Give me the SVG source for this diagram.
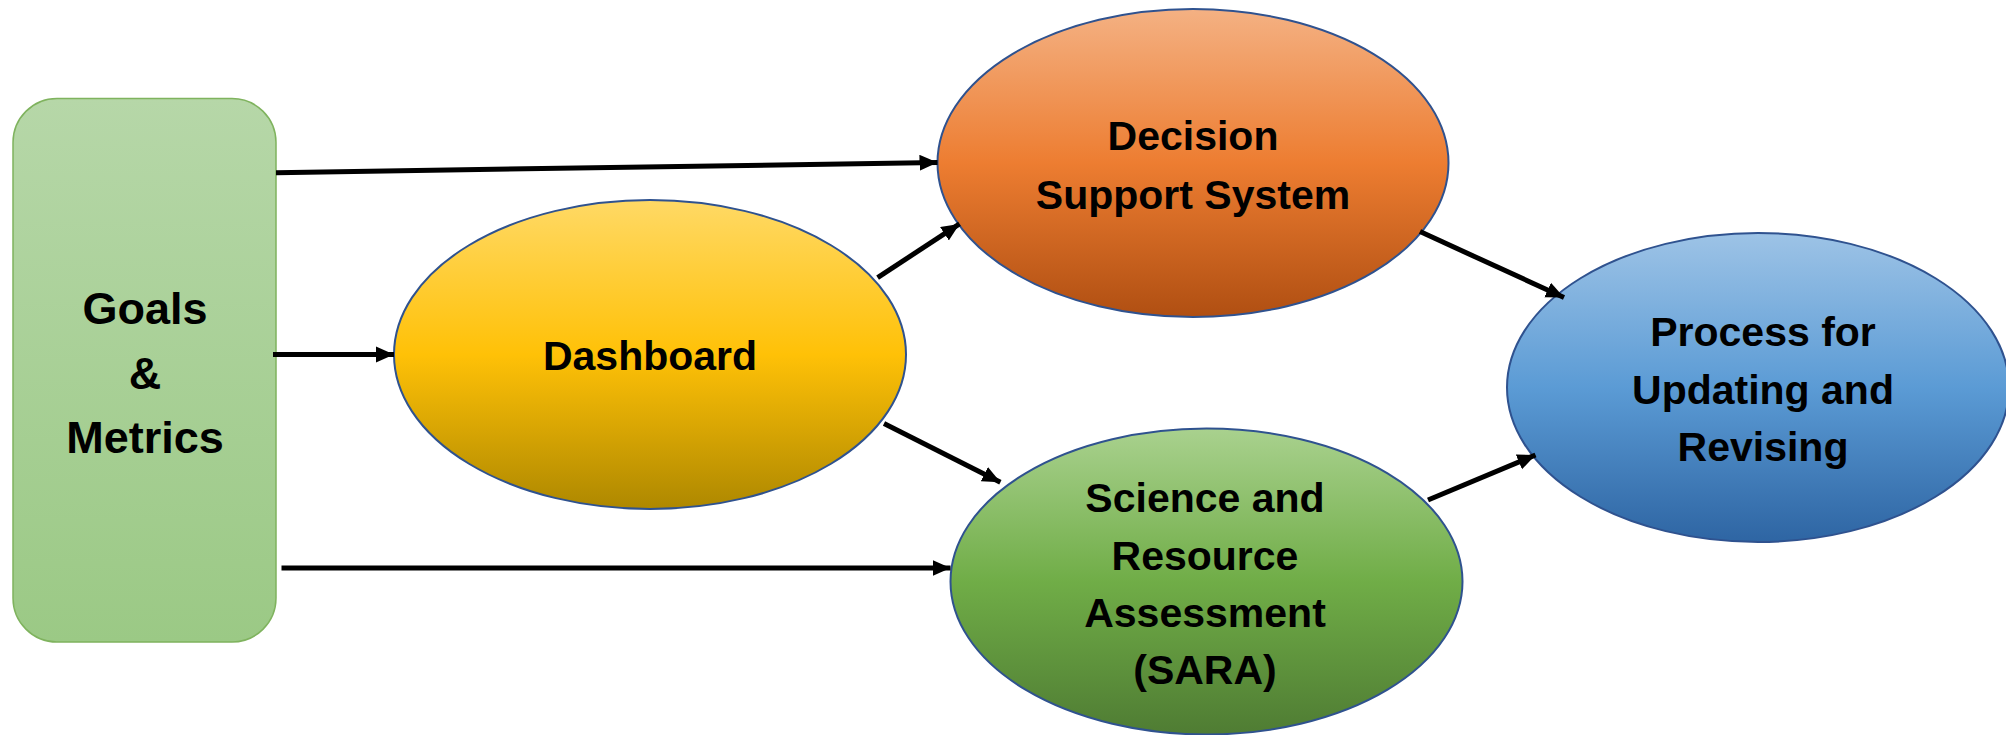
<svg xmlns="http://www.w3.org/2000/svg" width="2006" height="735" viewBox="0 0 2006 735">
  <style>
    .lbl { font-family: "Liberation Sans", Arial, sans-serif; font-weight: bold; fill: #000; text-anchor: middle; }
    .big { font-size: 45px; }
    .med { font-size: 41px; }
    .ell { stroke: #2f528f; stroke-width: 2; }
    .conn { stroke: #000; stroke-width: 5; fill: none; marker-end: url(#arrow); }
  </style>
  <defs>
    <linearGradient id="goalsGrad" x1="0" y1="0" x2="0" y2="1">
      <stop offset="0" stop-color="#b6d7a8"/>
      <stop offset="1" stop-color="#9bc985"/>
    </linearGradient>
    <linearGradient id="dashGrad" x1="0" y1="0" x2="0" y2="1">
      <stop offset="0" stop-color="#ffd965"/>
      <stop offset="0.5" stop-color="#ffc107"/>
      <stop offset="1" stop-color="#ae8800"/>
    </linearGradient>
    <linearGradient id="dssGrad" x1="0" y1="0" x2="0" y2="1">
      <stop offset="0" stop-color="#f4b183"/>
      <stop offset="0.5" stop-color="#ed7d31"/>
      <stop offset="1" stop-color="#b04f12"/>
    </linearGradient>
    <linearGradient id="saraGrad" x1="0" y1="0" x2="0" y2="1">
      <stop offset="0" stop-color="#a9d18e"/>
      <stop offset="0.5" stop-color="#70ad47"/>
      <stop offset="1" stop-color="#4f7c33"/>
    </linearGradient>
    <linearGradient id="procGrad" x1="0" y1="0" x2="0" y2="1">
      <stop offset="0" stop-color="#9dc3e6"/>
      <stop offset="0.5" stop-color="#5b9bd5"/>
      <stop offset="1" stop-color="#2e65a3"/>
    </linearGradient>
    <marker id="arrow" markerUnits="userSpaceOnUse" markerWidth="19" markerHeight="17" refX="18" refY="8" orient="auto">
      <path d="M0,0 L18,8 L0,16 Z" fill="#000"/>
    </marker>
  </defs>

  <g id="goals">
    <rect x="13" y="98.5" width="263" height="543.5" rx="44" ry="44" fill="url(#goalsGrad)" stroke="#7fb35e" stroke-width="1.5"/>
    <text class="lbl big" x="145" y="323.5">Goals</text>
    <text class="lbl big" x="145" y="388.5">&amp;</text>
    <text class="lbl big" x="145" y="452.5">Metrics</text>
  </g>

  <g id="dashboard">
    <ellipse class="ell" cx="650" cy="354.5" rx="256" ry="154.5" fill="url(#dashGrad)"/>
    <text class="lbl med" x="650" y="370">Dashboard</text>
  </g>

  <g id="dss">
    <ellipse class="ell" cx="1193" cy="163" rx="255.5" ry="154" fill="url(#dssGrad)"/>
    <text class="lbl med" x="1193" y="150">Decision</text>
    <text class="lbl med" x="1193" y="208.5">Support System</text>
  </g>

  <g id="sara">
    <ellipse class="ell" cx="1206.5" cy="581.5" rx="256" ry="153" fill="url(#saraGrad)"/>
    <text class="lbl med" x="1205" y="511.5">Science and</text>
    <text class="lbl med" x="1205" y="570">Resource</text>
    <text class="lbl med" x="1205" y="627">Assessment</text>
    <text class="lbl med" x="1205" y="683.5">(SARA)</text>
  </g>

  <g id="process">
    <ellipse class="ell" cx="1758" cy="387.5" rx="251" ry="154.5" fill="url(#procGrad)"/>
    <text class="lbl med" x="1763" y="345.5">Process for</text>
    <text class="lbl med" x="1763" y="404">Updating and</text>
    <text class="lbl med" x="1763" y="461">Revising</text>
  </g>

  <g id="connectors">
    <line class="conn" x1="276" y1="172.7" x2="937.5" y2="162.5"/>
    <line class="conn" x1="273" y1="354.4" x2="394" y2="354.4"/>
    <line class="conn" x1="281.5" y1="568" x2="950.5" y2="568"/>
    <line class="conn" x1="877.6" y1="277.6" x2="959.5" y2="223.9"/>
    <line class="conn" x1="884" y1="423.5" x2="1000.4" y2="482.3"/>
    <line class="conn" x1="1420" y1="231.6" x2="1564" y2="297.5"/>
    <line class="conn" x1="1428" y1="500" x2="1535.5" y2="455"/>
  </g>
</svg>
